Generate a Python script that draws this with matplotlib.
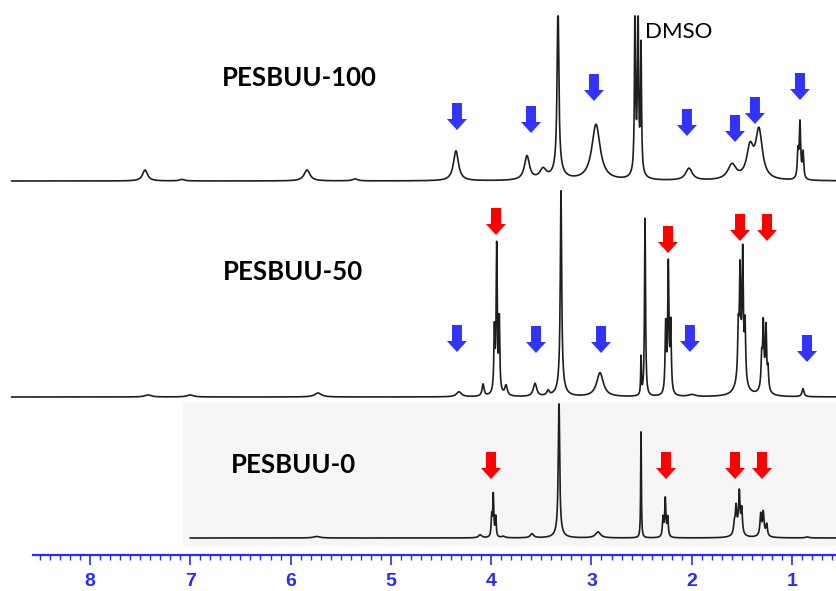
import numpy as np
import matplotlib.pyplot as plt
from matplotlib.patches import FancyArrow, Rectangle

# peaks: (ppm, height in px, half width in ppm)
top_peaks = [(7.451, 11, 0.03), (7.082, 1.5, 0.03), (5.836, 11, 0.035), (5.358, 2, 0.03),
             (4.351, 30, 0.03), (3.643, 24, 0.03), (3.483, 10, 0.04),
             (3.334, 170, 0.01), (3.334, 10, 0.06), (2.955, 56, 0.05),
             (2.566, 170, 0.006), (2.536, 170, 0.006), (2.506, 125, 0.006), (2.54, 12, 0.04),
             (2.028, 12, 0.04), (1.599, 15, 0.05), (1.419, 30, 0.04), (1.330, 48, 0.04),
             (0.941, 26, 0.008), (0.921, 55, 0.008), (0.891, 26, 0.008)]
mid_peaks = [(7.421, 2, 0.04), (7.003, 2, 0.04), (5.727, 4, 0.04), (4.321, 5, 0.03),
             (4.081, 12, 0.012), (3.968, 60, 0.006), (3.945, 140, 0.006), (3.919, 70, 0.006),
             (3.945, 8, 0.03), (3.852, 10, 0.015), (3.563, 13, 0.02), (3.433, 5, 0.015),
             (3.304, 195, 0.008), (3.304, 12, 0.04), (2.915, 24, 0.04),
             (2.506, 38, 0.004), (2.466, 180, 0.006),
             (2.260, 68, 0.007), (2.234, 128, 0.007), (2.210, 68, 0.007),
             (2.0, 2, 0.04), (1.536, 45, 0.007), (1.519, 95, 0.007), (1.492, 118, 0.007),
             (1.469, 55, 0.007), (1.51, 28, 0.04),
             (1.303, 28, 0.007), (1.287, 58, 0.007), (1.260, 58, 0.007), (1.24, 20, 0.007),
             (1.28, 12, 0.035), (0.891, 8, 0.012)]
bot_peaks = [(5.74, 1.5, 0.04), (4.11, 3, 0.02), (3.995, 20, 0.006), (3.979, 42, 0.006),
             (3.955, 20, 0.006), (3.88, 1.5, 0.02), (3.593, 4, 0.02),
             (3.324, 134, 0.008), (3.324, 6, 0.04), (2.935, 6, 0.03), (2.506, 106, 0.004),
             (2.287, 19, 0.007), (2.264, 38, 0.007), (2.240, 19, 0.007),
             (1.576, 10, 0.008), (1.559, 24, 0.008), (1.526, 38, 0.008), (1.502, 24, 0.008),
             (1.54, 8, 0.035),
             (1.313, 20, 0.008), (1.287, 20, 0.008), (1.253, 11, 0.008), (1.29, 5, 0.035),
             (0.85, 1, 0.02)]

# spectrum: (peaks, baseline row, left ppm, height cap)
spectra = [(top_peaks, 181, 8.78, 165), (mid_peaks, 397, 8.78, 300), (bot_peaks, 538, 7.0, 134)]

labels = ['PESBUU-100', 'PESBUU-50', 'PESBUU-0']
label_pos = [(6.684, 78), (6.674, 272), (6.594, 465)]

blue_arrows_x = [4.341, 3.603, 2.975, 2.048, 1.569, 1.370, 0.921,
                 4.341, 3.553, 2.905, 2.018, 0.851]
blue_arrows_top = [103, 106, 74, 109, 115, 97, 73, 325, 326, 326, 325, 335]
red_arrows_x = [3.952, 2.237, 1.519, 1.250, 4.002, 2.257, 1.569, 1.300]
red_arrows_top = [208, 226, 214, 214, 452, 452, 452, 452]

W, H = 837, 591
fig = plt.figure(figsize=(W / 100, H / 100), dpi=100)
ax = fig.add_axes([33 / W, 36 / H, 804 / W, 555 / H])
ax.set_xlim(8.568, 0.552)
ax.set_ylim(555, 0)
ax.patch.set_visible(False)

axis_blue = '#2a2aff'
for s in ['top', 'left', 'right']:
    ax.spines[s].set_visible(False)
ax.spines['bottom'].set_color(axis_blue)
ax.spines['bottom'].set_linewidth(1.6)
ax.set_yticks([])
ax.set_xticks(np.arange(1, 9))
ax.set_xticks(np.arange(6, 86) / 10, minor=True)
ax.tick_params(axis='x', which='major', length=7, width=1.2, color=axis_blue,
               labelcolor=axis_blue, pad=6)
ax.tick_params(axis='x', which='minor', length=3.5, width=1.0, color=axis_blue)
for t in ax.get_xticklabels():
    t.set_fontfamily('Liberation Sans')
    t.set_fontweight('bold')
    t.set_fontsize(14)

# grey panel behind the bottom spectrum
ax.add_patch(Rectangle((7.072, 403), 0.552 - 7.072, 143, facecolor='#f6f6f6',
                       edgecolor='none', zorder=0, clip_on=False))

for peaks, base, left, cap in spectra:
    x = np.linspace(left, 0.552, 6000)
    y = np.zeros_like(x)
    for p, h, w in peaks:
        y += h / (1 + ((x - p) / w) ** 2)
    y = np.minimum(y, cap)
    ax.plot(x, base - y, color='#1e1e1e', lw=1.2, clip_on=False, zorder=2)

for txt, (px, py) in zip(labels, label_pos):
    ax.text(px, py, txt, fontsize=18.5, fontweight='bold', family='Lato',
            ha='left', va='center', color='black')
ax.text(2.466, 32, 'DMSO', fontsize=16, family='Lato', ha='left', va='center')

ppm_px = 100.3
for xs, tops, col in [(blue_arrows_x, blue_arrows_top, '#3333ff'),
                      (red_arrows_x, red_arrows_top, '#ff0000')]:
    for px, top in zip(xs, tops):
        ax.add_patch(FancyArrow(px, top, 0, 27, width=10 / ppm_px, head_width=20 / ppm_px,
                                head_length=11, length_includes_head=True,
                                color=col, lw=0, zorder=3))

fig.savefig('out.png', dpi=100)
